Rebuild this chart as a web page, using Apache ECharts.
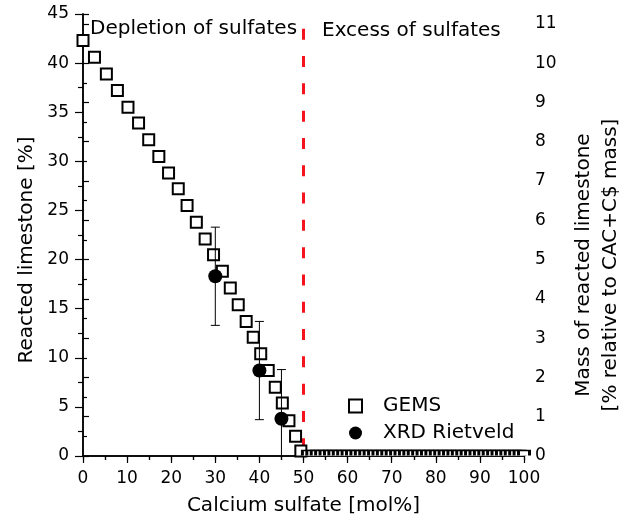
<!DOCTYPE html>
<html>
<head>
<meta charset="utf-8">
<script src="https://cdn.jsdelivr.net/npm/echarts@6/dist/echarts.min.js"></script>
<style>
  html, body { margin: 0; padding: 0; background: #fff; }
  #chart { width: 632px; height: 521px; }
</style>
</head>
<body>
<div id="chart"></div>
<script>
// GEMS model (open squares), depletion side
const gemsX = [0, 2.6, 5.3, 7.8, 10.2, 12.6, 14.9, 17.2, 19.4, 21.6, 23.6, 25.7, 27.7, 29.6, 31.6, 33.4, 35.2, 37.0, 38.6, 40.3, 42.0, 43.6, 45.2, 46.7, 48.2, 49.4]
const gemsY = [42.3, 40.6, 38.9, 37.2, 35.5, 33.9, 32.2, 30.5, 28.8, 27.2, 25.5, 23.8, 22.1, 20.5, 18.8, 17.1, 15.4, 13.7, 12.1, 10.4, 8.7, 7.0, 5.4, 3.6, 2.0, 0.5]
// GEMS excess side: no limestone reacts
const excessX = [51, 52, 53, 54, 55, 56, 57, 58, 59, 60, 61, 62, 63, 64, 65, 66, 67, 68, 69, 70, 71, 72, 73, 74, 75, 76, 77, 78, 79, 80, 81, 82, 83, 84, 85, 86, 87, 88, 89, 90, 91, 92, 93, 94, 95, 96, 97, 98, 99, 100]
const excessY = [0, 0, 0, 0, 0, 0, 0, 0, 0, 0, 0, 0, 0, 0, 0, 0, 0, 0, 0, 0, 0, 0, 0, 0, 0, 0, 0, 0, 0, 0, 0, 0, 0, 0, 0, 0, 0, 0, 0, 0, 0, 0, 0, 0, 0, 0, 0, 0, 0, 0]
// XRD Rietveld (filled circles) with error
const xrdX = [30, 40, 45]
const xrdY = [18.3, 8.7, 3.8]
const xrdErr = [5, 5, 5]
// boundary between depletion / excess
const boundaryX = 50
const boundaryTop = 43.5

const font = 'DejaVu Sans'

const chart = echarts.init(document.getElementById('chart'))

const gemsData = gemsX.map((x, i) => [x, gemsY[i]])
const excessData = excessX.map((x, i) => ({
  value: [x, excessY[i]],
  // only the upper half of the square is visible above the axis
  symbol: 'path://M0,1 L0,0 L1,0 L1,1',
  symbolSize: [11, 5],
  symbolOffset: [0, -3]
}))
const xrdData = xrdX.map((x, i) => [x, xrdY[i]])
const errData = xrdX.map((x, i) => [x, xrdY[i] - xrdErr[i], xrdY[i] + xrdErr[i]])

const option = {
  animation: false,
  backgroundColor: '#fff',
  textStyle: { fontFamily: font, color: '#000' },
  grid: { left: 83, right: 107, top: 14, bottom: 65 },
  legend: {
    orient: 'vertical',
    left: 343,
    top: 391,
    itemWidth: 13,
    itemHeight: 13,
    itemGap: 7,
    data: ['GEMS', 'XRD Rietveld'],
    textStyle: { fontFamily: font, fontSize: 20, color: '#000', padding: [0, 0, 0, 16] }
  },
  xAxis: [
    {
      type: 'value',
      min: 0,
      max: 100,
      interval: 10,
      name: 'Calcium sulfate [mol%]',
      nameLocation: 'middle',
      nameGap: 40,
      nameTextStyle: { fontFamily: font, fontSize: 20, color: '#000' },
      axisLine: { lineStyle: { color: '#000', width: 1.5 } },
      axisTick: { length: 7, lineStyle: { color: '#000', width: 1.2 } },
      minorTick: { show: true, splitNumber: 2, length: 4, lineStyle: { color: '#000', width: 1.2 } },
      axisLabel: { fontFamily: font, fontSize: 17, color: '#000', margin: 14 },
      splitLine: { show: false }
    },
    {
      type: 'value',
      position: 'top',
      min: 0,
      max: 100,
      interval: 5,
      axisLine: { lineStyle: { color: '#000', width: 1.5 } },
      axisTick: { inside: true, length: 4, lineStyle: { color: '#000', width: 1.2 } },
      axisLabel: { show: false },
      splitLine: { show: false }
    }
  ],
  yAxis: [
    {
      type: 'value',
      min: 0,
      max: 45,
      interval: 5,
      name: 'Reacted limestone [%]',
      nameLocation: 'middle',
      nameGap: 38,
      nameRotate: 90,
      nameTextStyle: { fontFamily: font, fontSize: 20, color: '#000', padding: [0, 30, 0, 0] },
      axisLine: { show: true, lineStyle: { color: '#000', width: 1.5 } },
      axisTick: { show: true, inside: false, length: 8, lineStyle: { color: '#000', width: 1.2 } },
      minorTick: { show: true, splitNumber: 2, length: 5, lineStyle: { color: '#000', width: 1.2 } },
      axisLabel: { fontFamily: font, fontSize: 17, color: '#000', margin: 14 },
      splitLine: { show: false }
    },
    {
      type: 'value',
      position: 'right',
      min: 0,
      max: 11.25,
      interval: 1,
      name: 'Mass of reacted limestone\n[% relative to CAC+C$ mass]',
      nameLocation: 'middle',
      nameGap: 46,
      nameRotate: 90,
      nameTextStyle: { fontFamily: font, fontSize: 20, color: '#000', lineHeight: 27, padding: [0, 60, 0, 0] },
      axisLine: { show: true, lineStyle: { color: '#000', width: 1.5 } },
      axisTick: { show: true, length: 6, lineStyle: { color: '#000', width: 1.2 } },
      minorTick: { show: true, splitNumber: 2, length: 4, lineStyle: { color: '#000', width: 1.2 } },
      axisLabel: { fontFamily: font, fontSize: 17, color: '#000', margin: 11, showMaxLabel: false },
      splitLine: { show: false }
    }
  ],
  graphic: [
    {
      type: 'text',
      left: 90,
      top: 19,
      style: { text: 'Depletion of sulfates', font: '20px "DejaVu Sans"', fill: '#000' }
    },
    {
      type: 'text',
      left: 322,
      top: 21,
      style: { text: 'Excess of sulfates', font: '20px "DejaVu Sans"', fill: '#000' }
    }
  ],
  series: [
    {
      name: 'boundary',
      type: 'line',
      data: [[boundaryX, boundaryTop], [boundaryX, 0]],
      symbol: 'none',
      silent: true,
      z: 1,
      lineStyle: { color: '#f5141e', width: 3, type: [11, 16.3] }
    },
    {
      name: 'GEMS',
      type: 'scatter',
      symbol: 'rect',
      symbolSize: 11,
      z: 3,
      itemStyle: { color: '#fff', borderColor: '#000', borderWidth: 2, opacity: 1 },
      data: gemsData.concat(excessData)
    },
    {
      name: 'xrdErr',
      type: 'custom',
      z: 4,
      silent: true,
      data: errData,
      renderItem: function(params, api) {
        const x = api.value(0)
        const lo = Math.max(api.value(1), 0)
        const hi = api.value(2)
        const pLo = api.coord([x, lo])
        const pHi = api.coord([x, hi])
        const cap = 4.5
        const children = [
          { type: 'line', shape: { x1: pLo[0], y1: pLo[1], x2: pHi[0], y2: pHi[1] } },
          { type: 'line', shape: { x1: pHi[0] - cap, y1: pHi[1], x2: pHi[0] + cap, y2: pHi[1] } }
        ]
        if (api.value(1) > 0) {
          children.push({ type: 'line', shape: { x1: pLo[0] - cap, y1: pLo[1], x2: pLo[0] + cap, y2: pLo[1] } })
        }
        children.forEach(c => { c.style = { stroke: '#000', lineWidth: 1 } })
        return { type: 'group', children }
      }
    },
    {
      name: 'XRD Rietveld',
      type: 'scatter',
      symbol: 'circle',
      symbolSize: 14,
      z: 5,
      itemStyle: { color: '#000', opacity: 1 },
      data: xrdData
    }
  ]
}

chart.setOption(option)
</script>
</body>
</html>
